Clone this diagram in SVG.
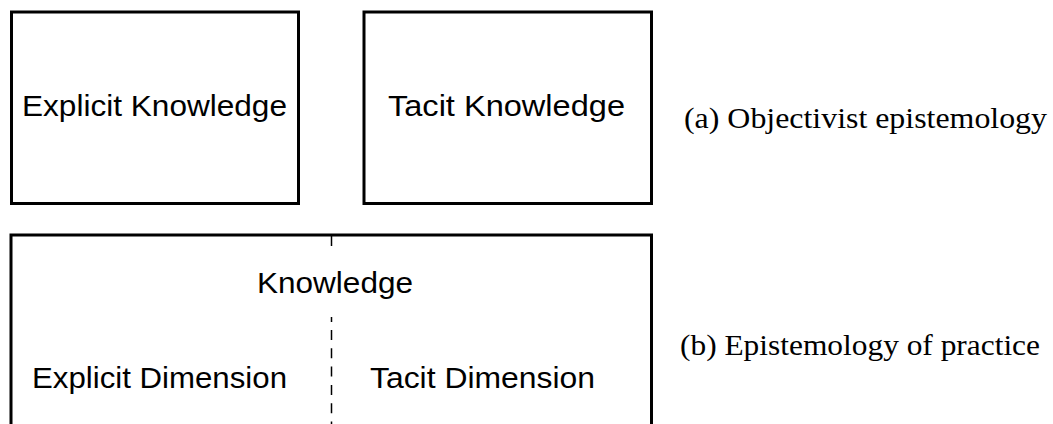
<svg xmlns="http://www.w3.org/2000/svg" width="1053" height="424" viewBox="0 0 1053 424">
<style>
.box{fill:#fff;stroke:#000;stroke-width:3}
.s{font-family:"Liberation Sans",Arial,sans-serif;font-size:29px;fill:#000}
.r{font-family:"Liberation Serif","Times New Roman",serif;font-size:29px;fill:#000}
.dash{stroke:#000;stroke-width:1.5;fill:none}
</style>
<rect width="1053" height="424" fill="#fff"/>
<g id="explicit-knowledge">
<rect class="box" x="11.5" y="12" width="287" height="191.5"/>
<text class="s" x="22" y="116" textLength="265" lengthAdjust="spacingAndGlyphs">Explicit Knowledge</text>
</g>
<g id="tacit-knowledge">
<rect class="box" x="364" y="12" width="287.5" height="191.5"/>
<text class="s" x="388" y="116" textLength="237" lengthAdjust="spacingAndGlyphs">Tacit Knowledge</text>
</g>
<g id="label-a">
<text class="r" x="684" y="128" textLength="363" lengthAdjust="spacingAndGlyphs">(a) Objectivist epistemology</text>
</g>
<g id="knowledge">
<rect class="box" x="11" y="235" width="640.5" height="200"/>
<text class="s" x="257" y="293" textLength="156" lengthAdjust="spacingAndGlyphs">Knowledge</text>
<text class="s" x="32" y="388" textLength="255" lengthAdjust="spacingAndGlyphs">Explicit Dimension</text>
<text class="s" x="370" y="388" textLength="225" lengthAdjust="spacingAndGlyphs">Tacit Dimension</text>
</g>
<g id="label-b">
<text class="r" x="680" y="355" textLength="360" lengthAdjust="spacingAndGlyphs">(b) Epistemology of practice</text>
</g>
<g id="connectors">
<line class="dash" x1="331.5" y1="236" x2="331.5" y2="246"/>
<line class="dash" x1="331.5" y1="317" x2="331.5" y2="322"/>
<line class="dash" x1="331.5" y1="330" x2="331.5" y2="424" stroke-dasharray="10 8.3"/>
</g>
</svg>
